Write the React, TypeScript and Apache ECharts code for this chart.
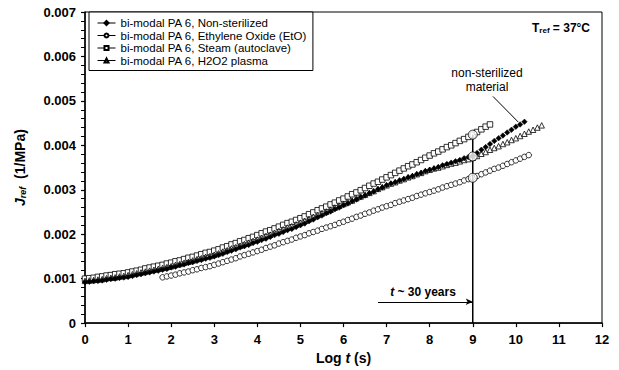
import React, { useEffect, useRef } from "react";
import * as echarts from "echarts";

// Log t sampling step of the measured curves (s, log10)
const STEP = 0.1;

// J_ref values in units of 0.001 1/MPa
const nonSterilizedStart = 0;
const nonSterilized = [
  0.92, 0.93, 0.94, 0.95, 0.96, 0.975, 0.99, 1.0, 1.015, 1.025,
  1.04, 1.06, 1.08, 1.1, 1.12, 1.14, 1.16, 1.18, 1.2, 1.22,
  1.25, 1.27, 1.3, 1.32, 1.35, 1.37, 1.4, 1.42, 1.45, 1.47,
  1.5, 1.53, 1.56, 1.6, 1.63, 1.66, 1.7, 1.73, 1.76, 1.8,
  1.83, 1.87, 1.9, 1.94, 1.98, 2.01, 2.05, 2.09, 2.12, 2.16,
  2.2, 2.24, 2.29, 2.33, 2.38, 2.42, 2.47, 2.51, 2.56, 2.6,
  2.65, 2.69, 2.74, 2.78, 2.83, 2.87, 2.92, 2.96, 3.01, 3.05,
  3.1, 3.14, 3.17, 3.21, 3.24, 3.28, 3.31, 3.35, 3.38, 3.42,
  3.45, 3.48, 3.51, 3.55, 3.58, 3.61, 3.64, 3.67, 3.71, 3.74,
  3.77, 3.83, 3.9, 3.96, 4.03, 4.1, 4.16, 4.22, 4.29, 4.35,
  4.42, 4.47, 4.53,
];

const ethyleneOxideStart = 1.8;
const ethyleneOxide = [
  1.03, 1.05,
  1.07, 1.09, 1.12, 1.14, 1.16, 1.19, 1.21, 1.24, 1.26, 1.28,
  1.31, 1.34, 1.37, 1.4, 1.43, 1.46, 1.5, 1.53, 1.56, 1.59,
  1.62, 1.65, 1.69, 1.72, 1.75, 1.79, 1.82, 1.85, 1.88, 1.92,
  1.95, 1.98, 2.02, 2.05, 2.08, 2.12, 2.15, 2.18, 2.21, 2.25,
  2.28, 2.32, 2.35, 2.39, 2.42, 2.46, 2.49, 2.53, 2.56, 2.6,
  2.63, 2.66, 2.7, 2.73, 2.76, 2.79, 2.82, 2.86, 2.89, 2.92,
  2.95, 2.98, 3.01, 3.05, 3.08, 3.11, 3.14, 3.17, 3.21, 3.24,
  3.27, 3.31, 3.35, 3.39, 3.43, 3.47, 3.5, 3.54, 3.58, 3.62,
  3.66, 3.7, 3.74, 3.78,
];

const steamStart = 0;
const steam = [
  1.0, 1.01, 1.02, 1.04, 1.05, 1.07, 1.08, 1.1, 1.11, 1.12,
  1.14, 1.16, 1.18, 1.2, 1.23, 1.25, 1.27, 1.29, 1.31, 1.34,
  1.36, 1.39, 1.41, 1.44, 1.47, 1.49, 1.52, 1.55, 1.58, 1.6,
  1.63, 1.66, 1.7, 1.73, 1.77, 1.8, 1.84, 1.87, 1.91, 1.94,
  1.98, 2.02, 2.06, 2.09, 2.13, 2.17, 2.21, 2.25, 2.28, 2.32,
  2.36, 2.4, 2.45, 2.49, 2.54, 2.58, 2.62, 2.67, 2.71, 2.76,
  2.8, 2.85, 2.9, 2.94, 2.99, 3.04, 3.09, 3.14, 3.18, 3.23,
  3.28, 3.33, 3.38, 3.43, 3.48, 3.53, 3.57, 3.62, 3.67, 3.72,
  3.77, 3.82, 3.86, 3.91, 3.96, 4.0, 4.05, 4.1, 4.14, 4.19,
  4.24, 4.3, 4.36, 4.42, 4.47,
];

const h2o2Start = 0;
const h2o2Plasma = [
  0.95, 0.96, 0.97, 0.98, 0.99, 1.01, 1.02, 1.03, 1.05, 1.06,
  1.08, 1.1, 1.12, 1.14, 1.16, 1.18, 1.2, 1.22, 1.24, 1.26,
  1.28, 1.31, 1.33, 1.36, 1.38, 1.41, 1.44, 1.46, 1.49, 1.51,
  1.54, 1.57, 1.61, 1.64, 1.68, 1.71, 1.74, 1.78, 1.81, 1.85,
  1.88, 1.92, 1.96, 1.99, 2.03, 2.07, 2.11, 2.15, 2.18, 2.22,
  2.26, 2.3, 2.34, 2.39, 2.43, 2.47, 2.51, 2.55, 2.6, 2.64,
  2.68, 2.72, 2.76, 2.81, 2.85, 2.89, 2.93, 2.97, 3.02, 3.06,
  3.1, 3.14, 3.17, 3.21, 3.24, 3.28, 3.31, 3.35, 3.38, 3.42,
  3.45, 3.48, 3.5, 3.53, 3.56, 3.59, 3.61, 3.64, 3.67, 3.69,
  3.72, 3.76, 3.81, 3.85, 3.9, 3.94, 3.98, 4.03, 4.07, 4.12,
  4.16, 4.21, 4.26, 4.31, 4.35, 4.4, 4.45,
];

// Points marked at t ~ 30 years (Log t = 9), in 0.001 1/MPa
const markLogT = 9;
const markValues = [4.24, 3.75, 3.27];
const arrowStartLogT = 6.8;
const arrowLevel = 0.48;
const pointerFrom = [9.47, 5.1];
const pointerTo = [10.06, 4.52];

const seriesNames = [
  "bi-modal PA 6, Non-sterilized",
  "bi-modal PA 6, Ethylene Oxide (EtO)",
  "bi-modal PA 6, Steam (autoclave)",
  "bi-modal PA 6, H2O2 plasma",
];

const FONT = "'Liberation Sans', Arial, Helvetica, sans-serif";

function toPairs(start: number, vals: number[]) {
  return vals.map((v, i) => [+(start + i * STEP).toFixed(2), v * 0.001]);
}

export default function App() {
  const ref = useRef<HTMLDivElement>(null);
  useEffect(() => {
    if (!ref.current) return;
    const chart = echarts.init(ref.current, null, { renderer: "svg" });
    const openMarker = (name: string, symbol: string, data: number[][], z: number) => ({
      name,
      type: "line",
      data,
      symbol,
      symbolSize: 5.5,
      showSymbol: true,
      lineStyle: { width: 0, color: "#000" },
      itemStyle: { color: "#fff", borderColor: "#000", borderWidth: 0.8 },
      z,
      silent: true,
    });
    chart.setOption({
      animation: false,
      backgroundColor: "#fff",
      textStyle: { fontFamily: FONT },
      grid: {
        left: 85,
        right: 17,
        top: 12,
        bottom: 46,
        show: true,
        borderColor: "#000",
        borderWidth: 1,
      },
      legend: {
        data: seriesNames,
        orient: "vertical",
        left: 89,
        top: 12,
        padding: [5, 6, 4, 8],
        itemGap: 0.5,
        itemWidth: 18,
        itemHeight: 5,
        borderColor: "#000",
        borderWidth: 1,
        backgroundColor: "#fff",
        lineStyle: { width: 1, color: "#000", opacity: 1 },
        textStyle: { fontFamily: FONT, fontSize: 11.5, color: "#000", lineHeight: 12, height: 12 },
        selectedMode: false,
      },
      xAxis: {
        type: "value",
        min: 0,
        max: 12,
        interval: 1,
        name: "{b|Log }{i|t}{b| (s)}",
        nameLocation: "middle",
        nameGap: 27,
        nameTextStyle: {
          rich: {
            b: { fontFamily: FONT, fontSize: 14, fontWeight: "bold", color: "#000" },
            i: { fontFamily: FONT, fontSize: 14, fontWeight: "bold", fontStyle: "italic", color: "#000" },
          },
        },
        axisLine: { lineStyle: { color: "#000", width: 1.5 } },
        axisTick: { inside: false, length: 4, lineStyle: { color: "#000", width: 1.2 } },
        axisLabel: { fontFamily: FONT, fontSize: 13, fontWeight: "bold", color: "#000", margin: 10 },
        splitLine: { show: false },
      },
      yAxis: {
        type: "value",
        min: 0,
        max: 0.007,
        interval: 0.001,
        name: "{j|J}{r|ref}{n|  (1/MPa)}",
        nameLocation: "middle",
        nameRotate: 90,
        nameGap: 58,
        nameTextStyle: {
          rich: {
            j: { fontFamily: FONT, fontSize: 14, fontWeight: "bold", fontStyle: "italic", color: "#000", verticalAlign: "bottom", lineHeight: 16 },
            r: { fontFamily: FONT, fontSize: 9, fontWeight: "bold", fontStyle: "italic", color: "#000", verticalAlign: "bottom", lineHeight: 10 },
            n: { fontFamily: FONT, fontSize: 14, fontWeight: "bold", color: "#000", verticalAlign: "bottom", lineHeight: 16 },
          },
        },
        axisLine: { show: true, lineStyle: { color: "#000", width: 1.5 } },
        axisTick: { show: true, inside: false, length: 4, lineStyle: { color: "#000", width: 1.2 } },
        minorTick: { show: true, splitNumber: 5, length: 4, lineStyle: { color: "#000", width: 1 } },
        axisLabel: {
          fontFamily: FONT,
          fontSize: 13,
          fontWeight: "bold",
          color: "#000",
          margin: 9,
          formatter: (v: number) => (v === 0 ? "0" : v.toFixed(3)),
        },
        splitLine: { show: false },
      },
      series: [
        openMarker(seriesNames[2], "rect", toPairs(steamStart, steam), 2),
        openMarker(seriesNames[1], "circle", toPairs(ethyleneOxideStart, ethyleneOxide), 2),
        openMarker(seriesNames[3], "triangle", toPairs(h2o2Start, h2o2Plasma), 3),
        {
          name: seriesNames[0],
          type: "line",
          data: toPairs(nonSterilizedStart, nonSterilized),
          symbol: "diamond",
          symbolSize: 5.5,
          lineStyle: { width: 0, color: "#000" },
          itemStyle: { color: "#000", borderColor: "#000", borderWidth: 0.5 },
          z: 4,
          silent: true,
        },
        {
          name: "t30line",
          type: "line",
          data: [
            [markLogT, 0],
            [markLogT, markValues[0] * 0.001],
          ],
          symbol: "none",
          lineStyle: { color: "#000", width: 1.5 },
          z: 5,
          silent: true,
          markLine: {
            silent: true,
            animation: false,
            label: { show: false },
            lineStyle: { color: "#000", width: 1, type: "solid" },
            data: [
              [
                { coord: [arrowStartLogT, arrowLevel * 0.001], symbol: "none" },
                { coord: [markLogT, arrowLevel * 0.001], symbol: "arrow", symbolSize: [5, 7] },
              ],
              [
                { coord: [pointerFrom[0], pointerFrom[1] * 0.001], symbol: "none" },
                { coord: [pointerTo[0], pointerTo[1] * 0.001], symbol: "none" },
              ],
            ],
          },
        },
        {
          name: "t30points",
          type: "scatter",
          data: markValues.map((v) => [markLogT, v * 0.001]),
          symbol: "circle",
          symbolSize: 9,
          itemStyle: { color: "#fff", borderColor: "#000", borderWidth: 1 },
          z: 6,
          silent: true,
        },
      ],
      graphic: [
        {
          type: "text",
          x: 561,
          y: 27,
          style: {
            text: "{b|T}{s|ref}{b| = 37°C}",
            align: "center",
            verticalAlign: "middle",
            rich: {
              b: { fontFamily: FONT, fontSize: 12, fontWeight: "bold", fill: "#000", verticalAlign: "bottom", lineHeight: 14 },
              s: { fontFamily: FONT, fontSize: 8, fontWeight: "bold", fill: "#000", verticalAlign: "bottom", lineHeight: 10 },
            },
          },
        },
        {
          type: "text",
          x: 487,
          y: 80,
          style: {
            text: "non-sterilized\nmaterial",
            align: "center",
            verticalAlign: "middle",
            fontFamily: FONT,
            fontSize: 12,
            lineHeight: 14,
            fill: "#000",
          },
        },
        {
          type: "text",
          x: 423,
          y: 292,
          style: {
            text: "{i|t}{b| ~ 30 years}",
            align: "center",
            verticalAlign: "middle",
            rich: {
              i: { fontFamily: FONT, fontSize: 12, fontWeight: "bold", fontStyle: "italic", fill: "#000" },
              b: { fontFamily: FONT, fontSize: 12, fontWeight: "bold", fill: "#000" },
            },
          },
        },
      ],
    });
    return () => chart.dispose();
  }, []);
  return <div ref={ref} style={{ width: 619, height: 370, position: "absolute", left: 0, top: 0 }} />;
}
